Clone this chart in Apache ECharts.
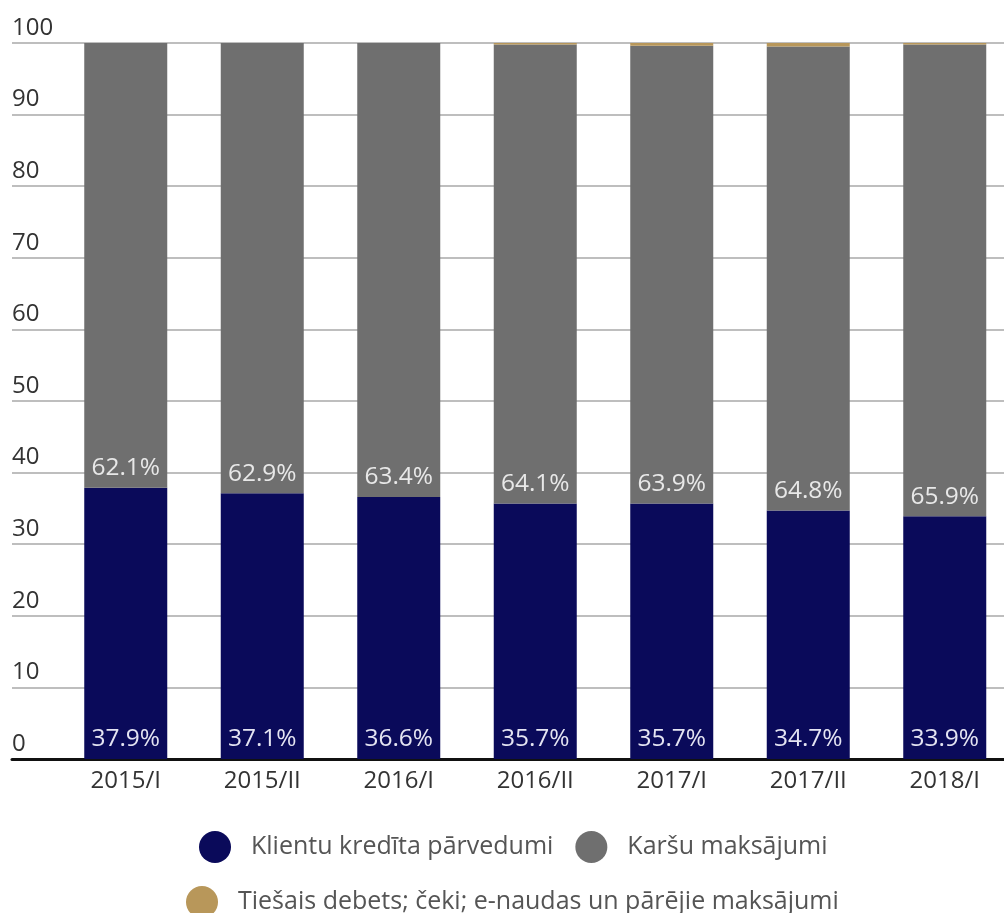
<!DOCTYPE html>
<html><head><meta charset="utf-8">
<script src="https://cdn.jsdelivr.net/npm/echarts@6/dist/echarts.min.js"></script>
<style>html,body{margin:0;padding:0;background:#fff;overflow:hidden}#c{width:1013px;height:913px}</style>
</head><body><div id="c"></div>
<script>
const categories = ['2015/I','2015/II','2016/I','2016/II','2017/I','2017/II','2018/I'];
const seriesNames = ['Klientu kredīta pārvedumi','Karšu maksājumi','Tiešais debets; čeki; e-naudas un pārējie maksājumi'];
const creditTransfers = [37.9,37.1,36.6,35.7,35.7,34.7,33.9];
const cardPayments = [62.1,62.9,63.4,64.1,63.9,64.8,65.9];
const otherPayments = [0,0,0,0.2,0.4,0.5,0.2];
const yMin = 0, yMax = 100, yStep = 10;

const FONT = 'Open Sans';
const chart = echarts.init(document.getElementById('c'));
const lbl = (color) => ({
  show: true, position: 'insideBottom', distance: 7,
  color: color, fontFamily: FONT, fontSize: 24.5,
  formatter: p => p.value.toFixed(1) + '%'
});
chart.setOption({
  animation: false,
  textStyle: { fontFamily: FONT },
  grid: [
    { left: 12, right: 9, top: 43, bottom: 154 },
    { left: 57.5, right: 0, top: 43, bottom: 154 }
  ],
  xAxis: [
    { gridIndex: 0, type: 'value', min: 0, max: 1, show: true,
      axisLine: { show: true, lineStyle: { color: '#111', width: 3 } },
      axisTick: { show: false }, axisLabel: { show: false }, splitLine: { show: false } },
    { gridIndex: 1, type: 'category', data: categories,
      axisLine: { show: false }, axisTick: { show: false },
      axisLabel: { color: '#333', fontSize: 24, fontFamily: FONT, margin: 10 } }
  ],
  yAxis: [
    { gridIndex: 0, type: 'value', min: yMin, max: yMax, interval: yStep,
      axisLine: { show: false }, axisTick: { show: false },
      axisLabel: { inside: true, margin: 0, verticalAlign: 'bottom', padding: [0,0,3,0],
        color: '#333', fontSize: 24, fontFamily: FONT },
      splitLine: { lineStyle: { color: '#a8a8a8', width: 1.5 } } },
    { gridIndex: 1, type: 'value', min: yMin, max: yMax, show: false }
  ],
  legend: [
    { data: [seriesNames[0], seriesNames[1]], left: 194, top: 826, icon: 'circle',
      itemWidth: 32, itemHeight: 32, itemGap: 22,
      textStyle: { fontSize: 25, color: '#555', fontFamily: FONT, padding: [0,0,0,15] } },
    { data: [seriesNames[2]], left: 181, top: 881, icon: 'circle',
      itemWidth: 32, itemHeight: 32,
      textStyle: { fontSize: 25, color: '#555', fontFamily: FONT, padding: [0,0,0,15] } }
  ],
  series: [
    { name: seriesNames[0], type: 'bar', stack: 'a', xAxisIndex: 1, yAxisIndex: 1,
      data: creditTransfers, barWidth: 83, itemStyle: { color: '#0a0a5a' }, label: lbl('#e4e4f2') },
    { name: seriesNames[1], type: 'bar', stack: 'a', xAxisIndex: 1, yAxisIndex: 1,
      data: cardPayments, barWidth: 83, itemStyle: { color: '#6f6f6f' }, label: lbl('#e8e8e8') },
    { name: seriesNames[2], type: 'bar', stack: 'a', xAxisIndex: 1, yAxisIndex: 1,
      data: otherPayments, barWidth: 83, itemStyle: { color: '#b8975a' } }
  ]
});
</script></body></html>
